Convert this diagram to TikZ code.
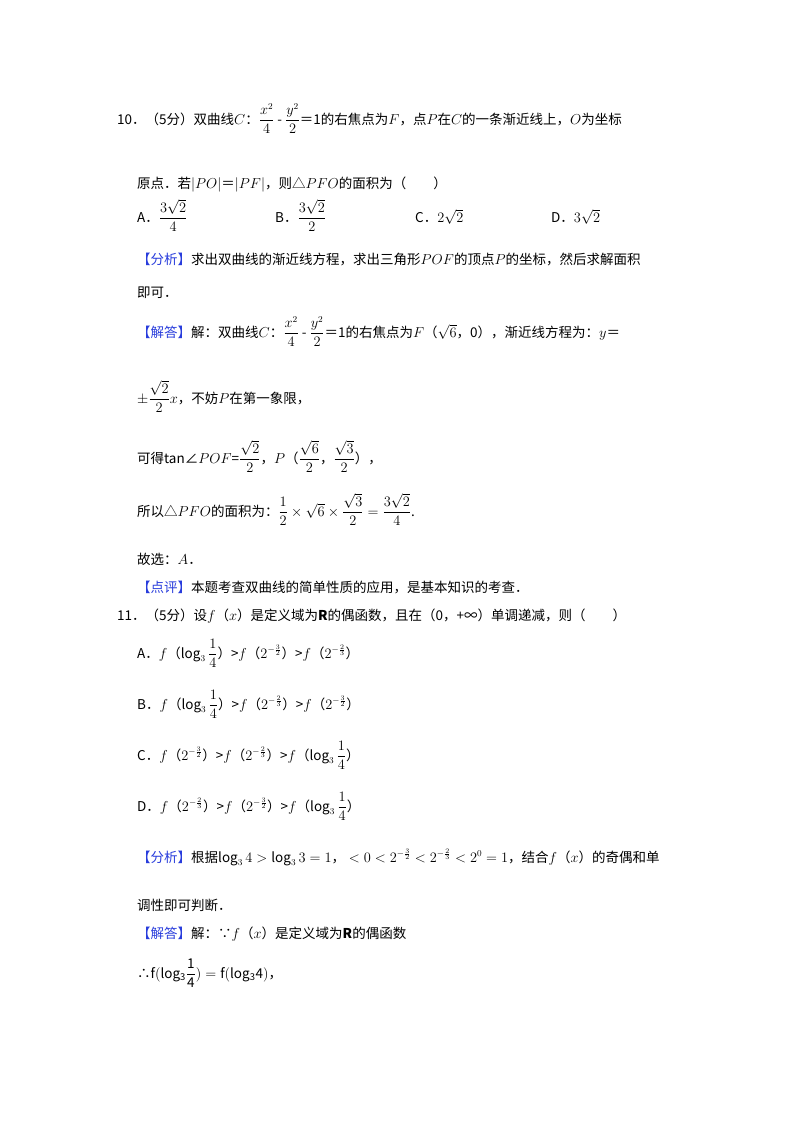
\documentclass[tikz,border=0pt]{standalone}
\usepackage{amsmath}
\usepackage{fontspec}
\setmainfont{Noto Sans CJK SC}
\definecolor{tagblue}{RGB}{40,60,220}
\newcommand{\tg}[1]{{\color{tagblue}【#1】}}
\begin{document}
\begin{tikzpicture}[x=1pt,y=-1pt,every node/.style={inner sep=0pt,anchor=base west,font=\fontsize{13.5}{16}\selectfont}]
\useasboundingbox[fill=white] (0,0) rectangle (800,1132);
\node (l1) at (117,124) {10．（5分）双曲线$C$：$\dfrac{x^2}{4}$ - $\dfrac{y^2}{2}$＝1的右焦点为$F$，点$P$在$C$的一条渐近线上，$O$为坐标};
\node (l2) at (137,188) {原点．若$|PO|$＝$|PF|$，则△$PFO$的面积为（　　）};
\node (oa) at (137,222) {A．$\dfrac{3\sqrt2}{4}$};
\node (ob) at (275,222) {B．$\dfrac{3\sqrt2}{2}$};
\node (oc) at (415,222) {C．$2\sqrt2$};
\node (od) at (551,222) {D．$3\sqrt2$};
\node (l4) at (137,264) {\tg{分析}求出双曲线的渐近线方程，求出三角形$POF$的顶点$P$的坐标，然后求解面积};
\node (l5) at (137,297) {即可．};
\node (l6) at (137,337) {\tg{解答}解：双曲线$C$：$\dfrac{x^2}{4}$ - $\dfrac{y^2}{2}$＝1的右焦点为$F$（$\sqrt6$，0），渐近线方程为：$y$＝};
\node (l7) at (137,403) {$\pm\dfrac{\sqrt2}{2}x$，不妨$P$在第一象限，};
\node (l8) at (137,463) {可得tan∠$POF$=$\dfrac{\sqrt2}{2}$，$P$（$\dfrac{\sqrt6}{2}$，$\dfrac{\sqrt3}{2}$），};
\node (l9) at (137,516) {所以△$PFO$的面积为：$\dfrac12\times\sqrt6\times\dfrac{\sqrt3}{2}=\dfrac{3\sqrt2}{4}$.};
\node (l10) at (137,564) {故选：$A$．};
\node (l11) at (137,592) {\tg{点评}本题考查双曲线的简单性质的应用，是基本知识的考查．};
\node (l12) at (117,620) {11．（5分）设$f$（$x$）是定义域为\textbf{R}的偶函数，且在（0，+∞）单调递减，则（　　）};
\node (qa) at (137,658) {A．$f$（$\log_3\dfrac14$）>$f$（$2^{-\frac32}$）>$f$（$2^{-\frac23}$）};
\node (qb) at (137,709) {B．$f$（$\log_3\dfrac14$）>$f$（$2^{-\frac23}$）>$f$（$2^{-\frac32}$）};
\node (qc) at (137,760) {C．$f$（$2^{-\frac32}$）>$f$（$2^{-\frac23}$）>$f$（$\log_3\dfrac14$）};
\node (qd) at (137,811) {D．$f$（$2^{-\frac23}$）>$f$（$2^{-\frac32}$）>$f$（$\log_3\dfrac14$）};
\node (l13) at (137,862) {\tg{分析}根据$\log_34>\log_33=1$，\;$<0<2^{-\frac32}<2^{-\frac23}<2^0=1$，结合$f$（$x$）的奇偶和单};
\node (l14) at (137,910) {调性即可判断．};
\node (l15) at (137,938) {\tg{解答}解：∵$f$（$x$）是定义域为\textbf{R}的偶函数};
\node (l16) at (137,978) {∴$\mathrm{f(log_3\dfrac14)=f(log_34)}$，};
\end{tikzpicture}
\end{document}
